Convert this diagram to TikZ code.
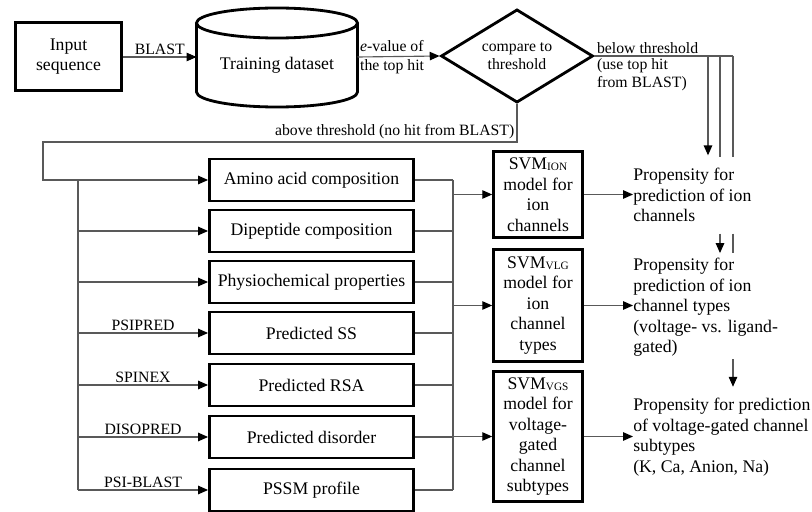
\documentclass[tikz,border=0pt]{standalone}
\usepackage{fontspec}
\setmainfont{Liberation Serif}
\usetikzlibrary{arrows.meta,shapes.geometric,calc}

\tikzset{
  bigfont/.style={font=\fontsize{12.6}{14.6}\selectfont},
  smallfont/.style={font=\fontsize{11.2}{13}\selectfont},
  thickbox/.style={draw, line width=2pt},
  featbox/.style={thickbox, bigfont, minimum width=5.1cm, minimum height=1.05cm, inner sep=2pt},
  svmbox/.style={thickbox, bigfont, align=center, minimum width=2.22cm, inner sep=1pt},
  proptext/.style={bigfont, align=left, inner sep=0pt, anchor=north west},
  conn/.style={line width=0.8pt, draw=black!65},
  arrow/.style={conn, -{Triangle[length=7pt,width=6pt,color=black]}},
  lbl/.style={smallfont, inner sep=1.5pt},
}

\newcommand{\svmsub}[1]{SVM\raisebox{-0.8pt}{\fontsize{8}{8}\selectfont #1}}

\begin{document}
\begin{tikzpicture}[x=0.025cm, y=0.025cm]
\useasboundingbox (0,0) rectangle (812,-512);

% top row
\node[thickbox, bigfont, align=center, minimum width=2.65cm, minimum height=1.7cm] (input) at (68.5,-56.5) {Input\\sequence};

% training set as a cylinder
\draw[line width=2pt] (196.5,-23) -- (196.5,-92) arc[start angle=180, end angle=360, x radius=2.0125cm, y radius=0.375cm] -- (357.5,-23);
\draw[line width=2pt] (277,-23) ellipse [x radius=2.0125cm, y radius=0.375cm];
\node[bigfont] (train) at (277,-65) {Training dataset};
\coordinate (trainW) at (196.5,-57);
\coordinate (trainE) at (357.5,-57);

\node[diamond, thickbox, smallfont, align=center, minimum width=3.8cm, minimum height=2.33cm, inner sep=0pt, aspect=1.6] (cmp) at (517,-56) {compare to\\threshold};

\draw[arrow] (input.east |- trainW) -- node[lbl, above] {BLAST} (trainW);
\draw[arrow] (trainE) -- node[lbl, pos=0, anchor=west, align=left] {\textit{e}-value of\\the top hit} (cmp.west);

% below threshold branch
\coordinate (b1) at (708,-56);
\coordinate (b2) at (720,-56);
\coordinate (b3) at (733,-56);
\draw[conn] (cmp.east) -- node[lbl, pos=0, anchor=south west] {below threshold}
  node[lbl, pos=0, anchor=north west, align=left] {(use top hit\\from BLAST)} (b3);

% outputs
\node[proptext] (prop1) at (633,-168) {Propensity for\\prediction of ion\\channels};
\node[proptext] (prop2) at (633,-258) {Propensity for\\prediction of ion\\channel types\\(voltage- vs. ligand-\\gated)};
\node[proptext] (prop3) at (633,-398) {Propensity for prediction\\of voltage-gated channel\\subtypes\\(K, Ca, Anion, Na)};

\draw[arrow, shorten >=9pt] (b1) -- (b1 |- prop1.north);
\draw[conn, shorten >=8pt] (b2) -- (b2 |- prop1.north);
\draw[conn, shorten >=8pt] (b3) -- (b3 |- prop1.north);
\draw[arrow, shorten <=8pt, shorten >=3.5pt] (b2 |- prop1.south) -- (b2 |- prop2.north);
\draw[conn, shorten <=8pt, shorten >=3.5pt] (b3 |- prop1.south) -- (b3 |- prop2.north);
\draw[arrow, shorten <=1.5pt, shorten >=8pt] (b3 |- prop2.south) -- (b3 |- prop3.north);

% feature boxes
\foreach \nm/\txt/\yy in {aac/Amino acid composition/180, dpc/Dipeptide composition/231,
    phys/Physiochemical properties/282, pss/Predicted SS/333, rsa/Predicted RSA/385,
    dis/Predicted disorder/437, pssm/PSSM profile/490}
  \node[featbox] (\nm) at (311.5,-\yy) {\txt};

% above threshold branch
\coordinate (abv) at (43,-142);
\draw[arrow] (cmp.south) -- (cmp.south |- abv)
  -- node[lbl, pos=0, anchor=south east] {above threshold (no hit from BLAST)} (abv) |- (aac.west);

% left bus
\coordinate (busL) at (78,-180);
\draw[conn] (busL) -- (busL |- pssm.west);
\foreach \nm in {dpc,phys}
  \draw[arrow] (busL |- \nm.west) -- (\nm.west);
\foreach \nm/\tool in {pss/PSIPRED, rsa/SPINEX, dis/DISOPRED, pssm/PSI-BLAST}
  \draw[arrow] (busL |- \nm.west) -- node[lbl, above] {\tool} (\nm.west);

% SVM models
\node[svmbox, minimum height=2.15cm] (svm1) at (538,-194.5) {\svmsub{ION}\\model for\\ion\\channels};
\node[svmbox, minimum height=2.8cm] (svm2) at (538,-305.5) {\svmsub{VLG}\\model for\\ion\\channel\\types};
\node[svmbox, minimum height=3.25cm] (svm3) at (538,-436.5) {\svmsub{VGS}\\model for\\voltage-\\gated\\channel\\subtypes};

% right bus
\coordinate (busR) at (453,-180);
\foreach \nm in {aac,dpc,phys,pss,rsa,dis,pssm}
  \draw[conn] (\nm.east) -- (\nm.east -| busR);
\draw[conn] (busR) -- (busR |- pssm.east);
\foreach \k in {1,2,3} {
  \draw[arrow] (busR |- svm\k.west) -- (svm\k.west);
  \draw[arrow] (svm\k.east) -- (svm\k.east -| prop\k.west);
}
\end{tikzpicture}
\end{document}
